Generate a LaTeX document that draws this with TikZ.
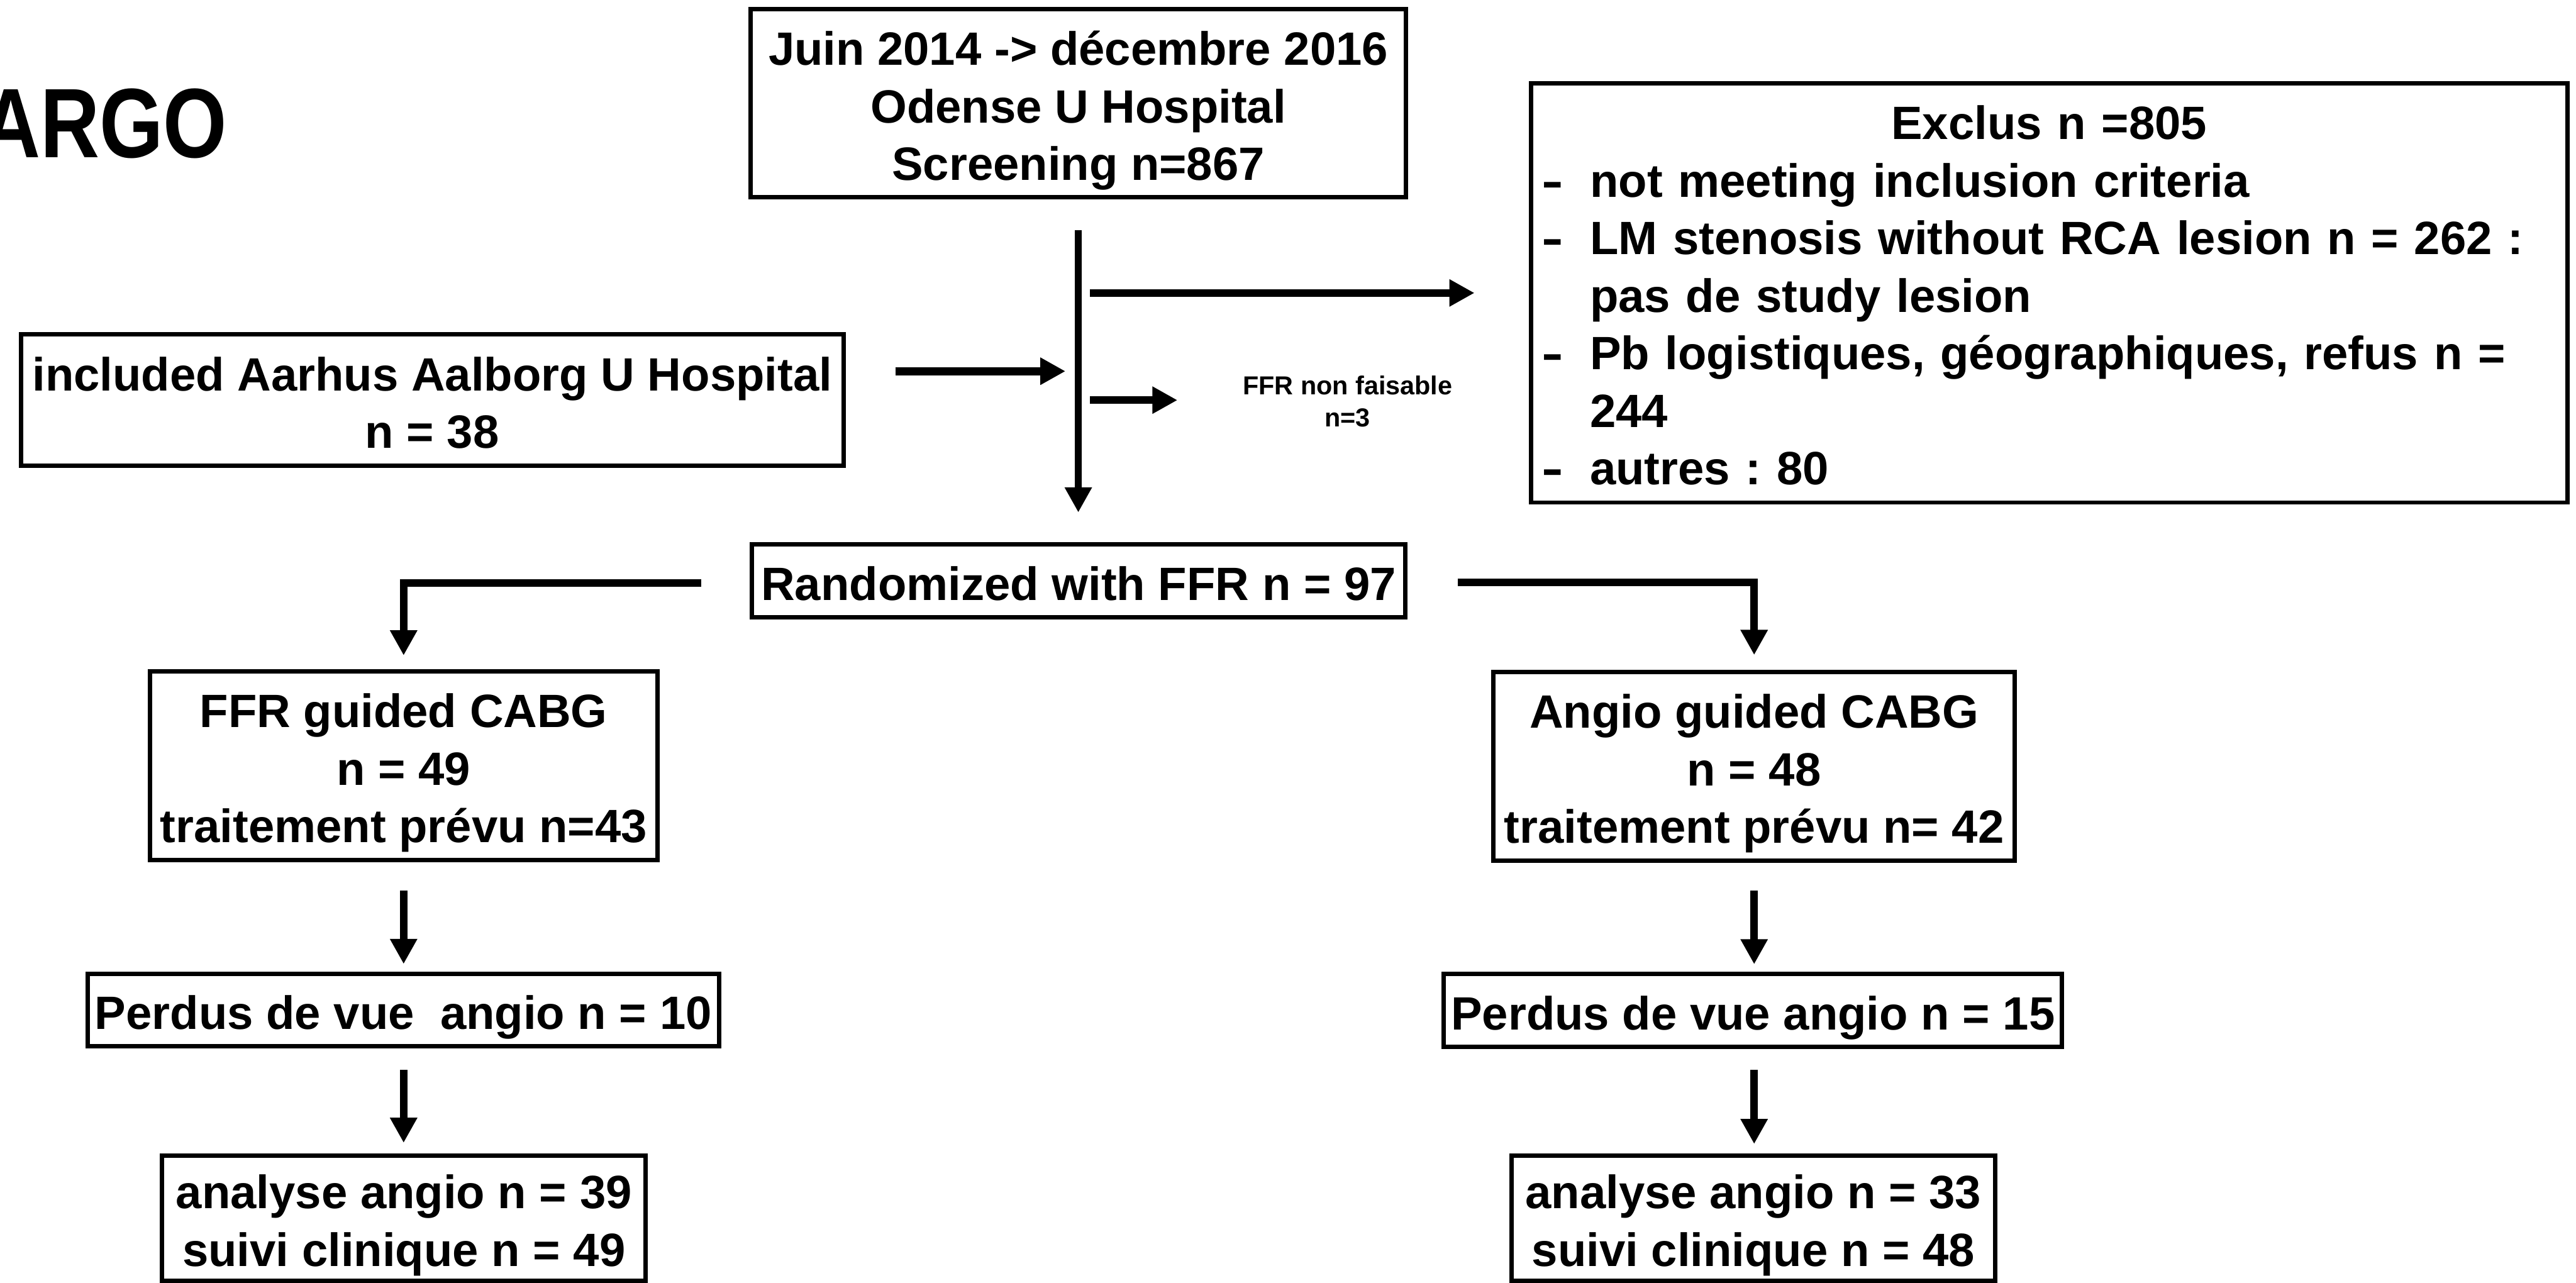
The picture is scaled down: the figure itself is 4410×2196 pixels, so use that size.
\documentclass[tikz,border=0pt]{standalone}
\usepackage{fontspec}
\usepackage{graphicx}
\setmainfont{Liberation Sans}
\usetikzlibrary{arrows.meta}
\frenchspacing
\newcommand\tstr{\rule{0pt}{17pt}}
\newcommand\bstr{\rule[-3.8pt]{0pt}{0pt}}
\newcommand\exdash{\makebox[17pt][l]{\hspace{0.4pt}\scalebox{1.4}[1]{-}}}
\begin{document}
\begin{tikzpicture}[x=0.2pt,y=-0.2pt,
  box/.style={draw, line width=1.5pt, inner sep=0pt, align=center,
    font=\bfseries\fontsize{16}{19.7}\selectfont},
  arr/.style={line width=2.7pt, -{Triangle[length=8.6pt,width=8.8pt]}},
  vln/.style={line width=2.5pt, -{Triangle[length=8.6pt,width=8.8pt]}},
]
\useasboundingbox (0,0) rectangle (4410,2196);

% title (cut at the left edge)
\node[anchor=base west, inner sep=0pt, font=\bfseries\fontsize{33.8}{40}\selectfont] (title) at (-33,270) {\scalebox{0.83}[1]{ARGO}};

% boxes
\node[box, minimum width=224.5pt, minimum height=64.4pt] (top) at (1846,177)
  {\tstr Juin 2014 -> décembre 2016\\Odense U Hospital\\Screening n=867\bstr};
\node[box, minimum width=281.7pt, minimum height=44.9pt] (incl) at (740,685)
  {\tstr included Aarhus Aalborg U Hospital\\n = 38\bstr};
\node[box, minimum width=354.9pt, minimum height=143.5pt, text width=348.4pt, align=left] (excl) at (3508,501.5)
  {\parindent=0pt
   {\centering\tstr Exclus n =805\par}
   \exdash not meeting inclusion criteria\par
   \exdash LM stenosis without RCA lesion n = 262 :\par
   \hspace*{17pt}pas de study lesion\par
   \exdash Pb logistiques, géographiques, refus n =\par
   \hspace*{17pt}244\par
   \exdash autres : 80\bstr};
\node[inner sep=0pt, align=center, font=\bfseries\fontsize{8.9}{11}\selectfont] (nf) at (2307,687)
  {FFR non faisable\\n=3};
\node[box, minimum width=223.9pt, minimum height=25.1pt] (rand) at (1846.5,994.5)
  {\tstr Randomized with FFR n = 97\bstr};
\node[box, minimum width=173.7pt, minimum height=64.5pt] (ffr) at (691,1311)
  {\tstr FFR guided CABG\\n = 49\\traitement prévu n=43\bstr};
\node[box, minimum width=178.5pt, minimum height=64.5pt] (angio) at (3003,1312)
  {\tstr Angio guided CABG\\n = 48\\traitement prévu n= 42\bstr};
\node[box, minimum width=216.3pt, minimum height=24.9pt] (pl) at (690.5,1729)
  {\tstr Perdus de vue\ \ angio n = 10\bstr};
\node[box, minimum width=211.7pt, minimum height=24.9pt] (pr) at (3001,1729.5)
  {\tstr Perdus de vue angio n = 15\bstr};
\node[box, minimum width=165.5pt, minimum height=43pt] (al) at (691.5,2085.4)
  {\tstr analyse angio n = 39\\suivi clinique n = 49\bstr};
\node[box, minimum width=165.5pt, minimum height=43pt] (ar) at (3001.5,2085.4)
  {\tstr analyse angio n = 33\\suivi clinique n = 48\bstr};

% main vertical line
\draw[vln, shorten <=10.55pt, shorten >=10.15pt] (top.south) -- (top.south |- rand.north);

% side arrows
\coordinate (j1) at (top.south |- excl.west);
\draw[arr, shorten <=4pt, shorten >=18.55pt] (j1) -- (excl.west);
\coordinate (inA) at ([yshift=9.9pt]incl.east);
\draw[arr, shorten <=16.95pt, shorten >=4.4pt] (inA) -- (inA -| top.south);
\coordinate (j3) at ([yshift=0.4pt]nf.west -| top.south);
\draw[arr, shorten <=4pt, shorten >=22.2pt] (j3) -- (j3 -| nf.west);

% branches
\draw[arr, line join=miter, shorten >=4.8pt] ([xshift=-16.55pt,yshift=-0.7pt]rand.west) -| (ffr.north);
\draw[arr, line join=miter, shorten >=5.15pt] ([xshift=17.15pt,yshift=-0.5pt]rand.east) -| (angio.north);

% down arrows
\draw[arr, shorten <=9.75pt, shorten >=2.55pt] (ffr.south) -- (ffr.south |- pl.north);
\draw[arr, shorten <=7.35pt, shorten >=3.55pt] (ffr.south |- pl.south) -- (ffr.south |- al.north);
\draw[arr, shorten <=9.55pt, shorten >=2.55pt] (angio.south) -- (angio.south |- pr.north);
\draw[arr, shorten <=7.15pt, shorten >=3.15pt] (angio.south |- pr.south) -- (angio.south |- ar.north);
\end{tikzpicture}
\end{document}
